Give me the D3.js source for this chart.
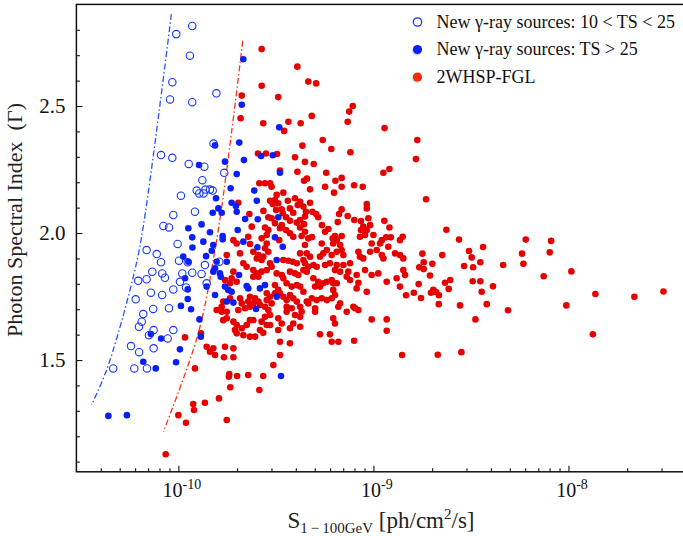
<!DOCTYPE html>
<html>
<head>
<meta charset="utf-8">
<script src="https://cdn.jsdelivr.net/npm/d3@7"></script>
<style>
  html, body { margin: 0; padding: 0; background: #fff; }
  svg { display: block; font-family: "Liberation Serif", "DejaVu Serif", serif; }
</style>
</head>
<body>
<svg id="chart" width="683" height="536"></svg>
<script>
// Each source: [log10 of S(1-100 GeV) in ph/cm^2/s, photon spectral index]

// New gamma-ray sources, 10 < TS < 25 (open circles)
const lowTsSources = [
  [-9.929,2.815],[-10.011,2.783],[-9.941,2.698],[-10.031,2.594],[-10.043,2.526],[-9.929,2.515],[-9.805,2.550],
  [-9.820,2.352],[-10.089,2.307],[-10.031,2.296],[-9.947,2.272],[-9.867,2.261],[-9.765,2.237],[-9.877,2.208],
  [-9.906,2.167],[-9.893,2.156],[-9.871,2.156],[-9.861,2.171],[-9.838,2.171],[-9.824,2.167],[-9.987,2.147],
  [-10.026,2.071],[-9.915,2.084],[-10.077,2.028],[-10.048,2.022],[-10.004,1.957],[-10.163,1.933],[-10.111,1.917],
  [-10.089,1.885],[-9.997,1.891],[-9.952,1.885],[-9.864,1.874],[-9.790,1.887],[-10.134,1.848],[-10.083,1.841],
  [-10.069,1.824],[-9.980,1.841],[-9.929,1.844],[-9.881,1.839],[-10.206,1.812],[-10.163,1.818],[-9.992,1.808],
  [-9.961,1.786],[-10.026,1.778],[-9.855,1.802],[-10.141,1.765],[-10.083,1.756],[-10.219,1.739],[-10.129,1.701],
  [-10.048,1.704],[-10.180,1.681],[-10.188,1.651],[-10.202,1.631],[-10.127,1.618],[-10.151,1.598],[-10.026,1.618],
  [-10.055,1.585],[-10.243,1.555],[-10.201,1.531],[-10.127,1.546],[-10.334,1.467],[-10.226,1.467],[-10.161,1.467]
];

// New gamma-ray sources, TS > 25 (filled blue)
const highTsSources = [
  [-9.667,2.684],[-9.675,2.505],[-9.483,2.416],[-9.894,2.268],[-9.949,2.019],[-9.929,1.983],[-9.812,2.345],
  [-9.688,2.356],[-9.761,2.281],[-9.664,2.287],[-9.701,2.232],[-9.479,2.237],[-9.576,2.303],[-9.516,2.306],
  [-9.732,2.176],[-9.611,2.167],[-9.598,2.127],[-9.807,2.137],[-9.727,2.119],[-9.705,2.106],[-9.701,2.084],
  [-9.795,2.097],[-9.778,2.080],[-9.824,2.080],[-9.658,2.055],[-9.593,2.054],[-9.488,2.062],[-9.881,2.034],
  [-9.696,2.012],[-9.838,2.003],[-9.773,1.988],[-9.773,1.975],[-9.505,1.983],[-9.872,1.966],[-9.821,1.953],
  [-9.829,1.930],[-9.858,1.909],[-9.804,1.887],[-9.752,1.887],[-9.812,1.861],[-9.821,1.848],[-9.787,1.841],
  [-9.783,1.828],[-9.689,1.835],[-9.855,1.789],[-9.761,1.789],[-9.744,1.776],[-9.727,1.769],[-9.812,1.756],
  [-9.650,1.791],[-9.642,1.782],[-9.582,1.782],[-9.556,1.795],[-9.595,1.944],[-9.667,1.966],[-9.496,1.894],
  [-9.465,1.946],[-9.496,1.749],[-9.752,1.730],[-9.718,1.726],[-9.602,1.701],[-9.892,1.660],[-9.885,1.592],
  [-9.928,1.943],[-9.975,1.907],[-9.949,1.887],[-9.966,1.822],[-9.952,1.778],[-9.952,1.740],[-9.987,1.713],
  [-9.935,1.700],[-10.089,1.585],[-10.141,1.602],[-9.992,1.542],[-10.180,1.493],[-10.116,1.467],[-10.012,1.491],
  [-10.359,1.280],[-10.264,1.283],[-9.474,1.437]
];

// 2WHSP-FGL sources (filled red)
const fglSources = [
  [-9.573,2.724],[-9.390,2.655],[-9.334,2.596],[-9.294,2.589],[-9.573,2.580],[-9.675,2.541],[-9.488,2.535],
  [-9.681,2.452],[-9.106,2.500],[-9.124,2.478],[-9.132,2.438],[-9.316,2.461],[-9.436,2.438],[-9.373,2.432],
  [-9.565,2.432],[-8.943,2.413],[-9.458,2.402],
  [-9.364,2.344],[-9.402,2.298],[-9.592,2.313],[-9.551,2.313],[-9.494,2.311],[-9.351,2.280],[-9.479,2.246],
  [-9.390,2.241],[-9.356,2.206],[-9.341,2.214],[-9.585,2.196],[-9.556,2.196],[-9.530,2.196],[-9.522,2.182],
  [-9.496,2.150],[-9.462,2.159],[-9.505,2.130],[-9.488,2.117],[-9.516,2.114],[-9.530,2.127],[-9.439,2.127],
  [-9.402,2.137],[-9.376,2.123],[-9.388,2.110],[-9.564,2.087],[-9.499,2.091],[-9.470,2.093],[-9.465,2.078],
  [-9.428,2.097],[-9.411,2.080],[-9.359,2.104],[-9.346,2.084],[-9.693,2.119],[-9.539,2.062],[-9.522,2.058],
  [-9.505,2.038],[-9.470,2.031],[-9.479,2.019],[-9.448,2.062],[-9.428,2.048],[-9.393,2.041],[-9.376,2.051],
  [-9.351,2.065],[-9.356,2.035],[-9.636,2.075],[-9.556,2.022],[-9.539,2.012],[-9.376,2.022],[-9.351,2.005],
  [-9.368,1.988],[-9.448,2.012],[-9.428,1.999],[-9.411,1.985],[-9.624,2.025],[-9.642,1.985],[-9.573,1.979],
  [-9.547,1.992],[-9.718,1.972],[-9.483,1.972],[-9.334,1.979],
  [-9.260,2.366],[-9.216,2.331],[-9.118,2.318],[-9.306,2.272],[-8.949,2.237],[-8.918,2.252],[-9.242,2.237],
  [-9.195,2.206],[-9.163,2.217],[-9.099,2.188],[-9.055,2.182],[-9.248,2.182],[-9.163,2.182],[-9.202,2.159],
  [-9.325,2.172],[-9.325,2.119],[-9.034,2.114],[-9.034,2.097],[-9.163,2.093],[-9.176,2.075],[-9.313,2.084],
  [-9.294,2.075],[-9.283,2.062],[-9.132,2.067],[-9.098,2.051],[-9.064,2.047],[-9.026,2.058],[-8.944,2.048],
  [-9.264,2.031],[-9.183,2.043],[-9.017,2.031],[-9.052,2.025],[-9.064,2.012],[-8.918,2.022],[-9.231,2.016],
  [-9.248,2.005],[-9.034,2.012],[-9.043,1.992],[-9.069,1.985],[-9.000,1.992],[-9.197,1.988],[-9.163,1.988],
  [-9.188,1.972],[-9.209,1.979],[-9.315,1.984],[-8.957,1.972],[-8.935,1.983],[-8.911,1.983],[-8.864,1.972],
  [-8.850,1.985],
  [-9.351,1.953],[-9.265,1.959],[-9.206,1.959],[-9.171,1.953],[-9.009,1.959],[-8.966,1.959],[-8.924,1.946],
  [-9.342,1.920],[-9.325,1.907],[-9.274,1.907],[-9.257,1.920],[-9.239,1.933],[-9.214,1.913],[-9.188,1.926],
  [-9.163,1.933],[-9.154,1.913],[-9.077,1.926],[-9.069,1.907],[-9.052,1.900],[-9.017,1.926],[-8.983,1.933],
  [-8.957,1.913],[-8.949,1.900],[-8.889,1.920],[-8.864,1.913],[-8.847,1.900],[-9.351,1.881],[-9.334,1.867],
  [-9.359,1.854],[-9.308,1.874],[-9.291,1.867],[-9.248,1.874],[-9.223,1.881],[-9.188,1.874],[-9.154,1.874],
  [-9.120,1.881],[-9.197,1.854],[-9.171,1.848],[-9.342,1.848],[-9.129,1.848],[-9.137,1.828],[-9.120,1.815],
  [-9.086,1.835],[-9.077,1.804],[-9.043,1.854],[-9.009,1.835],[-8.975,1.841],[-8.847,1.854],[-8.838,1.835],
  [-9.308,1.822],[-9.283,1.808],[-9.257,1.802],[-9.239,1.808],[-9.214,1.815],[-9.206,1.802],[-9.188,1.802],
  [-9.274,1.789],[-9.299,1.789],[-8.932,1.808],[-8.881,1.822],[-8.864,1.789],[-9.086,1.782],[-9.034,1.769],
  [-9.206,1.776],[-9.197,1.756],[-9.214,1.743],[-9.359,1.769],[-9.342,1.730],[-9.316,1.743],[-9.291,1.736],
  [-9.265,1.743],[-9.239,1.736],[-9.334,1.723],[-9.171,1.723],[-9.180,1.710],[-9.299,1.704],[-9.299,1.690],
  [-9.137,1.690],[-9.103,1.710],[-9.077,1.697],[-9.094,1.704],[-9.206,1.664],[-9.197,1.644],[-9.009,1.660],
  [-8.932,1.660],[-8.932,1.615],[-9.274,1.601],[-9.223,1.601],[-9.214,1.572],[-9.180,1.572],[-9.099,1.576],
  [-8.853,1.520],
  [-8.775,2.366],[-8.782,2.291],[-8.730,2.133],[-8.626,2.013],[-8.561,1.974],[-8.219,1.974],[-8.089,1.969],
  [-8.438,1.945],[-8.510,1.929],[-8.749,1.919],[-8.647,1.913],[-8.238,1.919],[-8.096,1.924],[-8.496,1.904],
  [-8.742,1.885],[-8.698,1.879],[-8.452,1.885],[-8.535,1.870],[-8.335,1.874],[-8.231,1.879],[-8.765,1.865],
  [-8.742,1.858],[-8.489,1.865],[-7.985,1.849],[-8.710,1.833],[-8.127,1.830],[-8.606,1.815],[-8.633,1.804],
  [-8.491,1.810],[-8.452,1.810],[-8.768,1.799],[-8.387,1.790],[-8.614,1.780],[-8.793,1.765],[-8.693,1.776],
  [-8.705,1.765],[-8.679,1.768],[-8.664,1.755],[-8.445,1.769],[-7.862,1.760],[-7.662,1.749],[-7.513,1.770],
  [-8.833,1.755],[-8.756,1.744],[-8.665,1.720],[-8.556,1.715],[-8.419,1.720],[-8.011,1.715],[-8.310,1.696],
  [-8.477,1.660],[-7.875,1.601],[-8.670,1.521],[-8.549,1.531],
  [-9.701,1.959],[-9.633,1.957],[-9.547,1.959],[-9.556,1.940],[-9.539,1.926],[-9.616,1.926],[-9.590,1.913],
  [-9.598,1.900],[-9.573,1.894],[-9.565,1.907],[-9.684,1.920],[-9.752,1.913],[-9.530,1.881],[-9.522,1.867],
  [-9.462,1.894],[-9.436,1.891],[-9.414,1.887],[-9.393,1.881],[-9.376,1.920],[-9.359,1.894],[-9.650,1.867],
  [-9.616,1.854],[-9.598,1.841],[-9.590,1.828],[-9.616,1.828],[-9.573,1.848],[-9.547,1.854],[-9.667,1.881],
  [-9.718,1.848],[-9.727,1.822],[-9.701,1.808],[-9.735,1.802],[-9.761,1.815],[-9.496,1.841],[-9.470,1.835],
  [-9.462,1.822],[-9.428,1.848],[-9.402,1.841],[-9.385,1.835],[-9.445,1.802],[-9.419,1.789],[-9.393,1.795],
  [-9.376,1.789],[-9.505,1.795],[-9.488,1.776],[-9.479,1.763],[-9.505,1.763],[-9.633,1.749],[-9.607,1.743],
  [-9.590,1.730],[-9.616,1.723],[-9.582,1.717],[-9.642,1.730],[-9.633,1.710],[-9.547,1.763],[-9.530,1.749],
  [-9.547,1.736],[-9.522,1.723],[-9.556,1.710],[-9.539,1.697],[-9.530,1.677],[-9.556,1.670],[-9.573,1.651],
  [-9.462,1.749],[-9.445,1.736],[-9.428,1.756],[-9.411,1.743],[-9.393,1.730],[-9.445,1.710],[-9.419,1.704],
  [-9.376,1.710],[-9.368,1.690],[-9.402,1.677],[-9.445,1.690],[-9.376,1.670],[-9.684,1.743],[-9.675,1.723],
  [-9.658,1.704],[-9.693,1.697],[-9.735,1.743],[-9.770,1.730],[-9.778,1.710],[-9.804,1.697],[-9.778,1.690],
  [-9.752,1.690],[-9.633,1.657],[-9.616,1.657],[-9.650,1.638],[-9.718,1.651],[-9.701,1.638],[-9.770,1.657],
  [-9.752,1.664],[-9.675,1.625],[-9.710,1.618],[-9.582,1.618],[-9.565,1.607],[-9.547,1.638],[-9.530,1.638],
  [-9.488,1.664],[-9.470,1.644],[-9.428,1.625],[-9.411,1.644],[-9.376,1.631],[-9.488,1.618],[-9.633,1.592],
  [-9.607,1.592],[-9.667,1.598],[-9.701,1.605],[-9.855,1.552],[-9.821,1.546],[-9.838,1.533],[-9.812,1.520],
  [-9.761,1.552],[-9.718,1.546],[-9.479,1.572],[-9.428,1.566],[-9.766,1.511],[-9.718,1.511],[-9.479,1.520],
  [-9.966,1.589],[-9.884,1.605],[-9.915,1.467],[-9.924,1.327],[-9.920,1.303],[-10.000,1.283],[-9.961,1.253],
  [-10.065,1.129],[-9.864,1.332],[-9.792,1.349],[-9.752,1.264],[-9.739,1.445],[-9.741,1.434],[-9.699,1.437],
  [-9.642,1.441],[-9.565,1.437],[-9.734,1.393],[-9.585,1.382],[-9.513,1.480]
];

// Flux-limit curves: [log10 S, index]
const lowTsLimit = [[-10.036,2.862],[-10.189,1.984],[-10.248,1.776],[-10.368,1.461],[-10.445,1.323]];
const fglLimit   = [[-9.670,2.757],[-9.727,2.399],[-9.804,1.972],[-9.900,1.600],[-10.077,1.218]];

// Axis ticks and labels
const fluxMajorTicks = [1e-10, 1e-9, 1e-8];
const fluxTickExponents = ["-10", "-9", "-8"];
const indexMajorTicks = [1.5, 2.0, 2.5];
const indexTickLabels = ["1.5", "2.0", "2.5"];

const legendLabels = [
  "New \u03b3-ray sources: 10 < TS < 25",
  "New \u03b3-ray sources: TS > 25",
  "2WHSP-FGL"
];

const BLUE = "#0a1ef5";
const BLUE_OPEN = "#1433ff";
const RED = "#e60000";

const svg = d3.select("#chart");
const plot = { left: 76.4, right: 685.9, top: 4.4, bottom: 471.8 };

const x = d3.scaleLog().domain([3e-11, 4e-8]).range([plot.left, plot.right]);
const y = d3.scaleLinear().domain([1.06, 2.9]).range([plot.bottom, plot.top]);

const px = d => x(Math.pow(10, d[0]));
const py = d => y(d[1]);

// minor ticks at 2..9 times each power of ten, and every 0.1 in index
const fluxMinorTicks = [];
for (let e = -11; e <= -8; e++) {
  for (let k = 2; k <= 9; k++) {
    const v = k * Math.pow(10, e);
    if (v > 3.01e-11 && v < 4e-8) fluxMinorTicks.push(v);
  }
}
const indexMinorTicks = d3.range(11, 29).map(v => v / 10).filter(v => indexMajorTicks.indexOf(v) < 0);

const gx = svg.append("g").attr("transform", `translate(0,${plot.bottom})`);
gx.call(d3.axisBottom(x).tickValues(fluxMinorTicks).tickSizeInner(-3.5).tickSizeOuter(0).tickFormat(""));
const gxMaj = svg.append("g").attr("transform", `translate(0,${plot.bottom})`);
gxMaj.call(d3.axisBottom(x).tickValues(fluxMajorTicks).tickSizeInner(-6).tickSizeOuter(0).tickFormat(() => ""));

const gy = svg.append("g").attr("transform", `translate(${plot.left},0)`);
gy.call(d3.axisLeft(y).tickValues(indexMinorTicks).tickSizeInner(-3.5).tickSizeOuter(0).tickFormat(""));
const gyMaj = svg.append("g").attr("transform", `translate(${plot.left},0)`);
gyMaj.call(d3.axisLeft(y).tickValues(indexMajorTicks).tickSizeInner(-6).tickSizeOuter(0)
  .tickPadding(11).tickFormat((d, i) => indexTickLabels[i]));

svg.selectAll(".domain").remove();
svg.selectAll(".tick line").attr("stroke", "#111").attr("stroke-width", 1.1);
gyMaj.selectAll("text").attr("font-size", 21).attr("fill", "#111")
  .attr("font-family", "Liberation Serif, serif");

// x tick labels: 10 with superscript exponent
gxMaj.selectAll(".tick").each(function (d, i) {
  const t = d3.select(this).append("text")
    .attr("x", 3).attr("y", 25).attr("text-anchor", "middle")
    .attr("font-size", 20).attr("fill", "#111").attr("font-family", "Liberation Serif, serif");
  t.append("tspan").text("10");
  t.append("tspan").attr("dy", -8).attr("font-size", 14).text(fluxTickExponents[i]);
});

// clip region for the data
svg.append("clipPath").attr("id", "clip").append("rect")
  .attr("x", plot.left).attr("y", plot.top)
  .attr("width", plot.right - plot.left).attr("height", plot.bottom - plot.top);

const data = svg.append("g").attr("clip-path", "url(#clip)");

const line = d3.line().x(px).y(py).curve(d3.curveCatmullRom);
data.append("path").datum(lowTsLimit).attr("d", line)
  .attr("fill", "none").attr("stroke", "#1f55ff").attr("stroke-width", 1.3)
  .attr("stroke-dasharray", "6,2.5,1.5,2.5");
data.append("path").datum(fglLimit).attr("d", line)
  .attr("fill", "none").attr("stroke", "#ff3210").attr("stroke-width", 1.3)
  .attr("stroke-dasharray", "6,2.5,1.5,2.5");

data.append("g").selectAll("circle").data(fglSources).join("circle")
  .attr("cx", px).attr("cy", py).attr("r", 3.3).attr("fill", RED);

data.append("g").selectAll("circle").data(highTsSources).join("circle")
  .attr("cx", px).attr("cy", py).attr("r", 3.3).attr("fill", BLUE);

data.append("g").selectAll("circle").data(lowTsSources).join("circle")
  .attr("cx", px).attr("cy", py).attr("r", 3.7).attr("fill", "none")
  .attr("stroke", BLUE_OPEN).attr("stroke-width", 1.1);

// frame
svg.append("rect")
  .attr("x", plot.left).attr("y", plot.top)
  .attr("width", plot.right - plot.left).attr("height", plot.bottom - plot.top)
  .attr("fill", "none").attr("stroke", "#111").attr("stroke-width", 1.5);

// legend
const legend = svg.append("g");
const rowsY = [22, 49.5, 77];
legendLabels.forEach((label, i) => {
  const cy = rowsY[i];
  const cx = 417.5;
  if (i > 0) {
    legend.append("circle").attr("cx", cx - 0.8).attr("cy", cy + 1.4).attr("r", 4.6)
      .attr("fill", "#888").attr("opacity", 0.35);
  }
  if (i === 0) {
    legend.append("circle").attr("cx", cx).attr("cy", cy).attr("r", 4.2)
      .attr("fill", "none").attr("stroke", BLUE_OPEN).attr("stroke-width", 1.3);
  } else {
    legend.append("circle").attr("cx", cx).attr("cy", cy).attr("r", 4.6)
      .attr("fill", i === 1 ? BLUE : "#f52a00");
  }
  legend.append("text").attr("x", 436.5).attr("y", cy + 5.5)
    .attr("font-size", 18).attr("fill", "#111").text(label);
});

// axis titles
const xt = svg.append("text").attr("x", 381).attr("y", 528).attr("text-anchor", "middle")
  .attr("font-size", 23).attr("fill", "#222");
xt.append("tspan").text("S");
xt.append("tspan").attr("font-size", 15).attr("dy", 5).text("1\u2009\u2212\u2009100GeV");
xt.append("tspan").attr("dy", -5).text(" [ph/cm");
xt.append("tspan").attr("font-size", 15).attr("dy", -9).text("2");
xt.append("tspan").attr("dy", 9).text("/s]");

svg.append("text")
  .attr("transform", "translate(22,220) rotate(-90)")
  .attr("text-anchor", "middle").attr("font-size", 22).attr("fill", "#222")
  .text("Photon Spectral Index\u00a0\u00a0(\u0393)");
</script>
</body>
</html>
